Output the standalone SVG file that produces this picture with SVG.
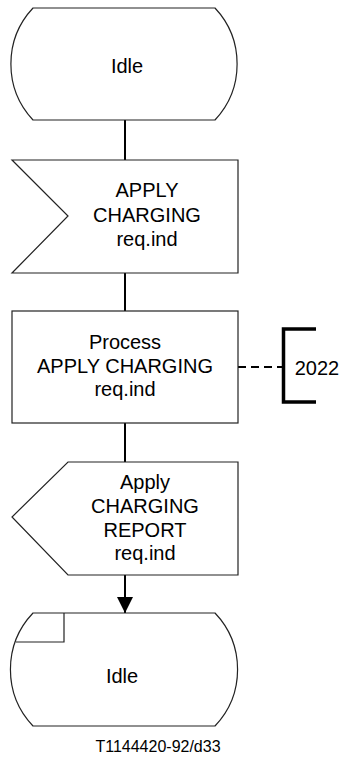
<svg xmlns="http://www.w3.org/2000/svg" width="342" height="758" viewBox="0 0 342 758">
<style>
.s{fill:#fff;stroke:#222;stroke-width:1.2}
.c{stroke:#000;stroke-width:2;fill:none}
text{font-family:"Liberation Sans",Arial,sans-serif;font-size:20px;fill:#000;text-anchor:middle}
</style>
<defs>
<marker id="ah" markerWidth="16" markerHeight="16" refX="16" refY="8" orient="auto" markerUnits="userSpaceOnUse">
<path d="M0,0 L16,8 L0,16 Z" fill="#000"/>
</marker>
</defs>
<rect width="342" height="758" fill="#fff"/>
<g id="connectors">
<line class="c" x1="125" y1="120" x2="125" y2="160"/>
<line class="c" x1="125" y1="273" x2="125" y2="311"/>
<line class="c" x1="125" y1="423" x2="125" y2="462"/>
<line class="c" x1="125" y1="575" x2="125" y2="613" marker-end="url(#ah)"/>
<line x1="238" y1="367" x2="283" y2="367" stroke="#000" stroke-width="2" stroke-dasharray="8,5"/>
</g>
<g id="idle1">
<path class="s" d="M33,8 L215,8 A82,82 0 0 1 215,120 L33,120 A82,82 0 0 1 33,8 Z"/>
<text x="127" y="73">Idle</text>
</g>
<g id="input">
<path class="s" d="M12,160 L238,160 L238,273 L12,273 L68,216 Z"/>
<text x="147" y="197">APPLY</text>
<text x="147" y="222">CHARGING</text>
<text x="147" y="246">req.ind</text>
</g>
<g id="task">
<rect class="s" x="12" y="311" width="226" height="112"/>
<text x="125" y="349">Process</text>
<text x="125" y="373">APPLY CHARGING</text>
<text x="125" y="396">req.ind</text>
</g>
<g id="ref2022">
<path d="M316,329 L283.5,329 L283.5,402 L316,402" fill="none" stroke="#000" stroke-width="3.5"/>
<text x="317" y="375">2022</text>
</g>
<g id="output">
<path class="s" d="M68,462 L238,462 L238,575 L68,575 L12,517 Z"/>
<text x="145" y="489">Apply</text>
<text x="145" y="513">CHARGING</text>
<text x="145" y="537">REPORT</text>
<text x="145" y="560">req.ind</text>
</g>
<g id="idle2">
<path class="s" d="M33,613 L215,613 A82,82 0 0 1 215,726 L33,726 A82,82 0 0 1 33,613 Z"/>
<path d="M64,613 L64,642 L16,642" fill="none" stroke="#222" stroke-width="1.2"/>
<text x="122" y="683">Idle</text>
</g>
<g id="caption">
<text x="158" y="752" style="font-size:16px">T1144420-92/d33</text>
</g>
</svg>
